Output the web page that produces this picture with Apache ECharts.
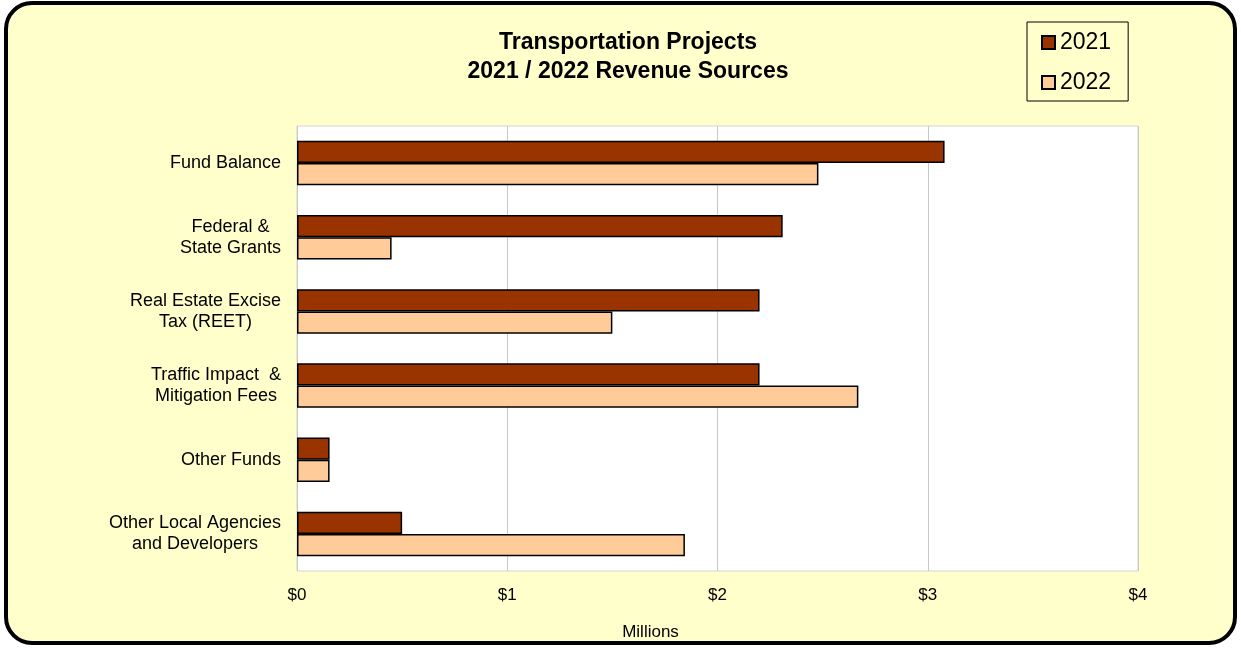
<!DOCTYPE html>
<html>
<head>
<meta charset="utf-8">
<script src="https://cdn.jsdelivr.net/npm/echarts@6/dist/echarts.min.js"></script>
<style>html,body{margin:0;padding:0;background:#fff}#c{width:1241px;height:648px}</style>
</head>
<body>
<div id="c"></div>
<script>
const categories = ['Fund Balance', 'Federal &\nState Grants', 'Real Estate Excise\nTax (REET)', 'Traffic Impact  &\nMitigation Fees', 'Other Funds', 'Other Local Agencies\nand Developers'];
const values2021 = [3.08, 2.31, 2.20, 2.20, 0.155, 0.50];
const values2022 = [2.48, 0.45, 1.50, 2.67, 0.155, 1.845];
const xTicks = [0, 1, 2, 3, 4];
const titleLines = ['Transportation Projects', '2021 / 2022 Revenue Sources'];

const FONT = 'Liberation Sans, Arial, sans-serif';
const chart = echarts.init(document.getElementById('c'), null, {renderer: 'canvas'});
chart.setOption({
  animation: false,
  backgroundColor: '#fff',
  textStyle: {fontFamily: FONT},
  graphic: [{
    type: 'rect', z: -10, silent: true,
    shape: {x: 6, y: 3, width: 1229, height: 640, r: 26},
    style: {fill: '#FFFFCC', stroke: '#000', lineWidth: 4}
  }],
  title: {
    text: titleLines.join('\n'),
    left: 628, top: 28, textAlign: 'center', padding: 0,
    textStyle: {fontFamily: FONT, fontSize: 23, fontWeight: 'bold', color: '#000', lineHeight: 29}
  },
  legend: {
    orient: 'vertical', left: 1027, top: 22,
    padding: [9, 17, 7, 14], itemGap: 17,
    itemWidth: 13, itemHeight: 13, icon: 'rect',
    borderColor: '#000', borderWidth: 1,
    backgroundColor: '#FFFFCC',
    textStyle: {fontFamily: FONT, fontSize: 23, color: '#000'},
    data: ['2021', '2022']
  },
  grid: {left: 297, right: 103, top: 126, bottom: 77, show: true, backgroundColor: '#fff', borderColor: '#d4d4d4', borderWidth: 1},
  xAxis: {
    type: 'value', min: xTicks[0], max: xTicks[xTicks.length - 1], interval: 1,
    name: 'Millions', nameLocation: 'middle', nameGap: 53,
    nameTextStyle: {fontFamily: FONT, fontSize: 17, color: '#000', padding: [0, 134, 0, 0]},
    axisLine: {show: false}, axisTick: {show: false},
    axisLabel: {fontFamily: FONT, fontSize: 17, color: '#000', margin: 16, formatter: v => '$' + v},
    splitLine: {lineStyle: {color: '#c8c8c8', width: 1}}
  },
  yAxis: {
    type: 'category', data: categories, inverse: true,
    axisLine: {show: false}, axisTick: {show: false},
    axisLabel: {
      fontFamily: FONT, fontSize: 18, color: '#000', margin: 16, lineHeight: 21,
      formatter: v => v.split('\n').map(s => '{c|' + s + '}').join('\n'),
      rich: {c: {align: 'center', fontFamily: FONT, fontSize: 18, color: '#000', lineHeight: 21}}
    }
  },
  series: [
    {name: '2021', type: 'bar', data: values2021, barGap: '0%', barCategoryGap: '40%',
     itemStyle: {color: '#993300', borderColor: '#000', borderWidth: 1.5}},
    {name: '2022', type: 'bar', data: values2022, barGap: '0%', barCategoryGap: '40%',
     itemStyle: {color: '#FFCC99', borderColor: '#000', borderWidth: 1.5}}
  ]
});
</script>
</body>
</html>
